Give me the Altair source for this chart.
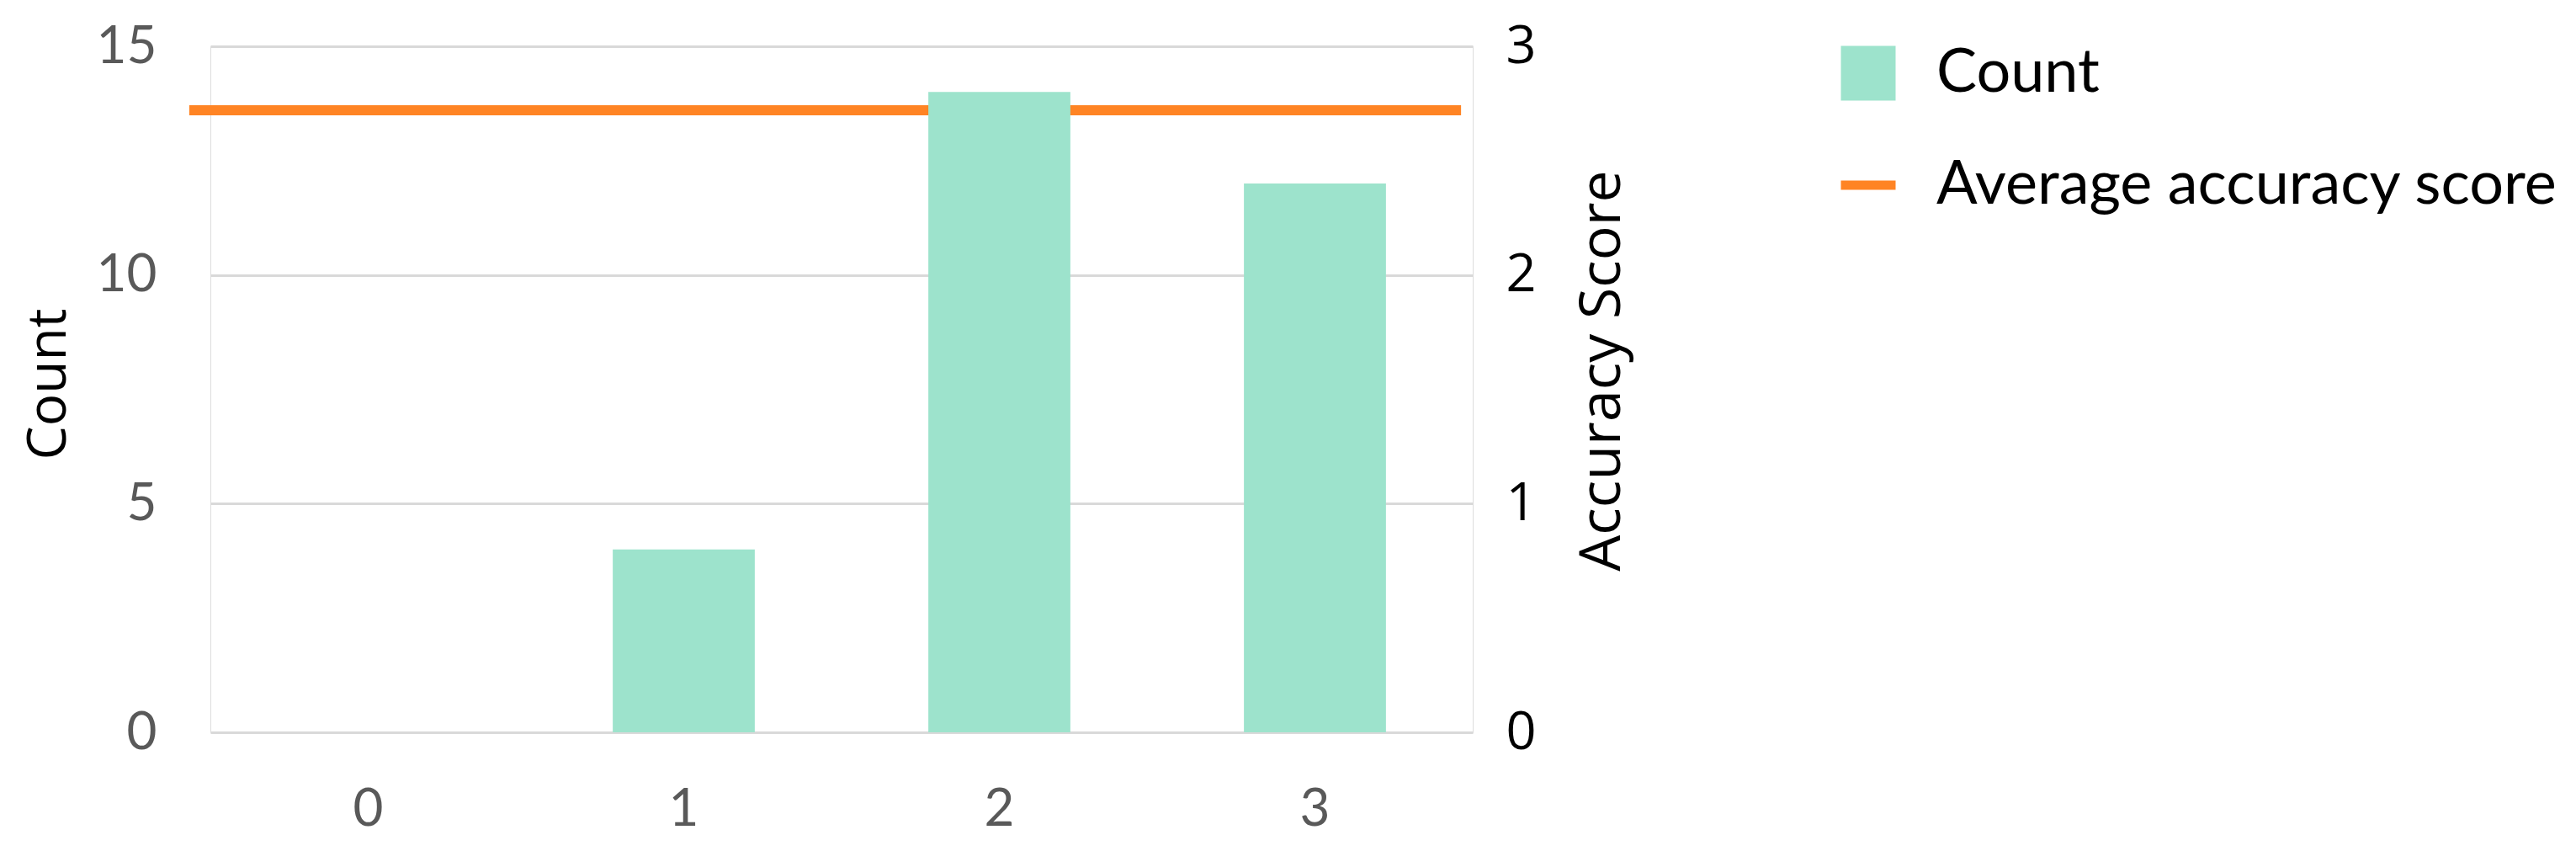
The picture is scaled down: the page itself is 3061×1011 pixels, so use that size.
import altair as alt
import pandas as pd

# ---- data ----
scores = ["0", "1", "2", "3"]
counts = [0, 4, 14, 12]
avg_accuracy = 2.72
line_x_start = -0.567
line_x_end = 3.463
series_names = ["Count", "Average accuracy score"]
series_colors = ["#9DE3CC", "#FF8424"]

bars_df = pd.DataFrame({"score": scores, "count": counts})
line_df = pd.DataFrame({"xs": [line_x_start], "xe": [line_x_end], "avg": [avg_accuracy]})
legend_df = pd.DataFrame({"series": series_names})

W, H = 1500, 815

rule = alt.Chart(line_df).mark_rule(
    color=series_colors[1], strokeWidth=12, strokeCap="butt"
).encode(
    x=alt.X("xs:Q", scale=alt.Scale(domain=[-0.5, 3.5], nice=False, zero=False), axis=None),
    x2="xe:Q",
    y=alt.Y(
        "avg:Q",
        scale=alt.Scale(domain=[0, 3], nice=False),
        axis=alt.Axis(
            orient="right", values=[0, 1, 2, 3], grid=False, ticks=False, domain=False,
            labelFont="Open Sans", labelFontSize=63, labelColor="#000000", labelPadding=39,
            title="Accuracy Score", titleFont="Open Sans", titleFontSize=68,
            titleFontWeight="normal", titleColor="#000000", titleAngle=270,
            titleX=174, titleY=385, titleBaseline="alphabetic", titleAlign="center",
        ),
    ),
)

bars = alt.Chart(bars_df).mark_bar(color=series_colors[0]).encode(
    x=alt.X(
        "score:N", sort=scores,
        scale=alt.Scale(paddingInner=0.55, paddingOuter=0.275),
        axis=alt.Axis(
            title=None, labelAngle=0, ticks=False, domain=False, grid=False,
            labelFont="Lato", labelFontSize=62, labelColor="#595959", labelPadding=61,
        ),
    ),
    y=alt.Y(
        "count:Q",
        scale=alt.Scale(domain=[0, 15], nice=False),
        axis=alt.Axis(
            orient="left", values=[0, 5, 10, 15], grid=True, gridColor="#D9D9D9", gridWidth=3,
            ticks=False, domain=False,
            labelFont="Lato", labelFontSize=62, labelColor="#595959", labelPadding=64,
            title="Count", titleFont="Open Sans", titleFontSize=64, titleFontWeight="normal",
            titleColor="#000000", titleAngle=270, titleX=-173, titleY=401,
            titleBaseline="alphabetic", titleAlign="center",
        ),
    ),
)

legend_spec = alt.Legend(
    title=None, orient="none", legendX=1934, legendY=-4, padding=0,
    symbolSize=4225, symbolStrokeWidth=0, symbolOpacity=1,
    labelFont="Lato", labelFontSize=72, labelColor="#000000", labelOffset=45,
    labelLimit=2000, rowPadding=61,
)

legend_pts = alt.Chart(legend_df).mark_point(filled=True, opacity=0).encode(
    color=alt.Color("series:N", scale=alt.Scale(domain=series_names, range=series_colors),
                    legend=legend_spec),
    shape=alt.Shape("series:N",
                    scale=alt.Scale(domain=series_names,
                                    range=["square", "M-1,-0.17H1V0.17H-1Z"]),
                    legend=legend_spec),
)

chart = alt.layer(rule, bars, legend_pts).resolve_scale(
    y="independent", x="independent"
).properties(
    width=W, height=H,
    autosize=alt.AutoSizeParams(type="none"),
    padding={"left": 242, "top": 47, "right": 1295, "bottom": 138},
).configure_view(stroke=None).configure(background="white")

chart.save("out.html", embed_options={"renderer": "svg", "actions": False})
